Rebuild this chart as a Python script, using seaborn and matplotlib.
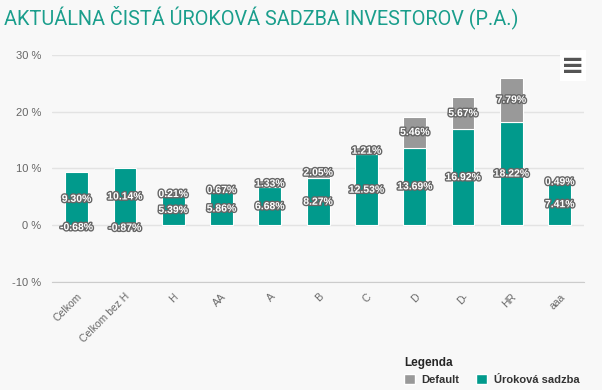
import numpy as np
import pandas as pd
import seaborn as sns
import matplotlib.pyplot as plt
import matplotlib.patheffects as pe
from matplotlib.patches import Patch

# data
categories = ["Celkom", "Celkom bez H", "H", "AA", "A", "B", "C", "D", "D-", "HR", "aaa"]
urokova = [9.30, 10.14, 5.39, 5.86, 6.68, 8.27, 12.53, 13.69, 16.92, 18.22, 7.41]
default = [-0.68, -0.87, 0.21, 0.67, 1.33, 2.05, 1.21, 5.46, 5.67, 7.79, 0.49]

teal = "#019a8c"
grey = "#999999"
bg = "#f8f8f8"

df = pd.DataFrame({"kat": categories, "urokova": urokova, "default": default})
# highcharts stacks negatives below zero, positives on top of the rate
df["base"] = np.where(df["default"] >= 0, df["urokova"], 0)

sns.set_style("white")
plt.rcParams["font.family"] = ["Liberation Sans", "DejaVu Sans"]

fig = plt.figure(figsize=(6.02, 3.90), dpi=100, facecolor=bg)
ax = fig.add_axes([0.087, 0.277, 0.883, 0.582], facecolor=bg)

sns.barplot(data=df, x="kat", y="urokova", color=teal, width=0.47,
            saturation=1, ax=ax, edgecolor="white", linewidth=0.8, zorder=3)
sns.barplot(data=df, x="kat", y="default", color=grey, width=0.47,
            saturation=1, ax=ax, bottom=df["base"], edgecolor="white",
            linewidth=0.8, zorder=3)

# data labels, centred in each segment
outline = [pe.withStroke(linewidth=2.0, foreground="#666666")]
for i, row in df.iterrows():
    ax.text(i, row["urokova"] / 2, f"{row['urokova']:.2f}%", ha="center", va="center",
            color="white", fontsize=7.5, fontweight="bold", path_effects=outline, zorder=5)
    ax.text(i, row["base"] + row["default"] / 2, f"{row['default']:.2f}%", ha="center",
            va="center", color="white", fontsize=7.5, fontweight="bold",
            path_effects=outline, zorder=5)

ax.set_ylim(-10, 30)
ax.set_xlim(-0.5, len(categories) - 0.5)
ax.set_yticks([-10, 0, 10, 20, 30])
ax.set_yticklabels([f"{v} %" for v in [-10, 0, 10, 20, 30]], color="#666666", fontsize=8)
ax.yaxis.grid(True, color="#e3e3e3", linewidth=1, zorder=0)
ax.set_xlabel("")
ax.set_ylabel("")

# x axis: labels at the centres, ticks at the category edges
ax.set_xticks(range(len(categories)))
ax.set_xticklabels(categories, rotation=45, ha="right", rotation_mode="anchor",
                   color="#666666", fontsize=7.5)
ax.set_xticks(np.arange(-0.5, len(categories), 1), minor=True)
ax.tick_params(axis="x", which="major", length=0, pad=7)
ax.tick_params(axis="x", which="minor", length=6, color="#cccccc", width=1)
ax.tick_params(axis="y", length=0, pad=8)

for s in ["top", "right", "left"]:
    ax.spines[s].set_visible(False)
ax.spines["bottom"].set_color("#cccccc")

fig.text(0.006, 0.955, "AKTUÁLNA ČISTÁ ÚROKOVÁ SADZBA INVESTOROV (P.A.)",
         color="#1a9e8c", fontsize=14.3, ha="left", va="center", family="Roboto")

# menu icon in the corner
fig.text(0.952, 0.832, "≡", fontsize=20, color="#555555", ha="center", va="center",
         family="DejaVu Sans", fontweight="bold",
         bbox=dict(facecolor="white", edgecolor="none", pad=1))

handles = [Patch(facecolor=grey, label="Default"), Patch(facecolor=teal, label="Úroková sadzba")]
leg = fig.legend(handles=handles, loc="upper left", bbox_to_anchor=(0.671, 0.085),
                 ncol=2, frameon=False, title="Legenda", alignment="left",
                 handlelength=1.0, handleheight=1.0, handletextpad=0.6,
                 columnspacing=1.5, borderaxespad=0, borderpad=0,
                 prop={"size": 8, "weight": "bold"})
leg.get_title().set_fontweight("bold")
leg.get_title().set_fontsize(8.5)
for t in leg.get_texts():
    t.set_color("#333333")

fig.savefig("out.png", dpi=100, facecolor=bg)
